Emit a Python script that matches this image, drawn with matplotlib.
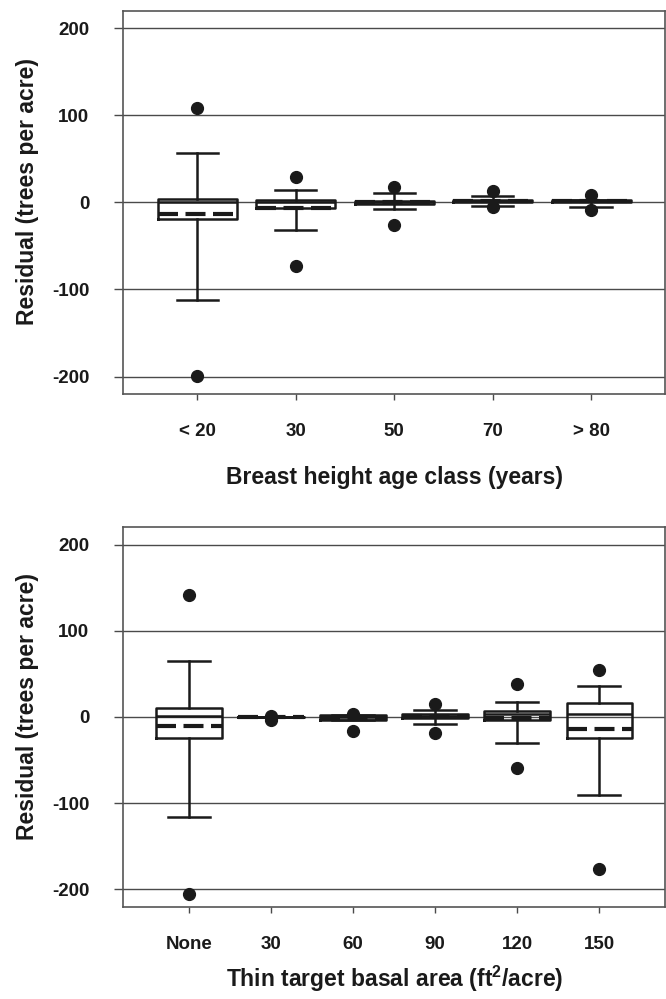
import matplotlib
matplotlib.use("Agg")
import matplotlib.pyplot as plt

plt.rcParams['font.family'] = ['Liberation Sans', 'DejaVu Sans']
plt.rcParams['font.weight'] = 'bold'
plt.rcParams['mathtext.default'] = 'regular'
plt.rcParams['axes.unicode_minus'] = False

# ---- Top panel: breast height age class ----
top_labels = ["< 20", "30", "50", "70", "> 80"]
top_whislo = [-112, -32, -8, -4, -5]
top_q1 = [-19, -6, -1.5, 0, 0]
top_med = [0, 0, 0.5, 1.5, 1]
top_q3 = [4, 3, 2, 3, 2.5]
top_whishi = [57, 14, 11, 7.5, 2.5]
top_mean = [-13, -6, 0, 1.5, 1]
top_fliers = [[108, -199], [29, -73], [18, -26], [12.5, -5.5], [9, -9]]

# ---- Bottom panel: thin target basal area ----
bot_labels = ["None", "30", "60", "90", "120", "150"]
bot_whislo = [-116, 0, -4, -8, -30, -91]
bot_q1 = [-24, 0, -4, -1.5, -3, -24]
bot_med = [1, 0, 0, 1, 3, 3]
bot_q3 = [10, 0, 2, 4, 7, 16.5]
bot_whishi = [65, 0, 2, 8, 17, 36]
bot_mean = [-11, 0, -1, 1.5, -1, -14]
bot_fliers = [[141, -205], [1, -3], [3, -16], [15, -19], [38, -59], [54, -176]]

yticks = [-200, -100, 0, 100, 200]

fig = plt.figure(figsize=(6.66, 9.99), dpi=100)
ax1 = fig.add_axes([0.1853, 0.6056, 0.8132, 0.3837])
ax2 = fig.add_axes([0.1853, 0.0924, 0.8132, 0.3798])


def build_stats(labels, wlo, q1, med, q3, whi, mean, fliers):
    stats = []
    for i in range(len(labels)):
        stats.append(dict(label=labels[i], whislo=wlo[i], q1=q1[i], med=med[i],
                          q3=q3[i], whishi=whi[i], mean=mean[i], fliers=fliers[i]))
    return stats


def draw(ax, labels, stats, xlim, capw, xlabel, label_y, xlab_y):
    n = len(labels)
    pos = list(range(1, n + 1))
    for y in yticks:
        ax.axhline(y, color='#4a4a4a', lw=1.0, zorder=0)
    ax.bxp(stats, positions=pos, widths=0.8, capwidths=capw,
           showmeans=True, meanline=True, showfliers=True,
           boxprops=dict(color='#1a1a1a', lw=1.8),
           whiskerprops=dict(color='#1a1a1a', lw=1.8),
           capprops=dict(color='#1a1a1a', lw=1.8),
           medianprops=dict(color='#1a1a1a', lw=1.8),
           meanprops=dict(color='#1a1a1a', lw=3.0, linestyle=(0, (4.8, 1.8))),
           flierprops=dict(marker='o', markerfacecolor='#1a1a1a',
                           markeredgecolor='#1a1a1a', markersize=8.5))
    ax.set_xlim(*xlim)
    ax.set_ylim(-220, 220)
    ax.set_yticks(yticks)
    ax.set_xticks(pos)
    ax.set_xticklabels(labels)
    ax.tick_params(axis='y', length=6.5, width=1, pad=18, labelsize=13.5, color='#4a4a4a')
    ax.tick_params(axis='x', length=4, width=1, pad=17, labelsize=13.5, color='#4a4a4a')
    for lab in ax.get_xticklabels() + ax.get_yticklabels():
        lab.set_fontweight('bold')
        lab.set_color('#1a1a1a')
    for sp in ax.spines.values():
        sp.set_color('#555555')
        sp.set_linewidth(1.2)
    ax.set_ylabel("Residual (trees per acre)", fontsize=16.5, fontweight='bold', color='#1a1a1a')
    ax.yaxis.set_label_coords(-0.178, label_y)
    ax.yaxis.label.set_verticalalignment('center')
    ax.set_xlabel(xlabel, fontsize=16.5, fontweight='bold', color='#1a1a1a')
    ax.xaxis.label.set_verticalalignment('center')
    ax.xaxis.set_label_coords(0.5, xlab_y)


draw(ax1, top_labels,
     build_stats(top_labels, top_whislo, top_q1, top_med, top_q3, top_whishi, top_mean, top_fliers),
     (0.25, 5.75), 0.42, "Breast height age class (years)", 0.527, -0.219)
draw(ax2, bot_labels,
     build_stats(bot_labels, bot_whislo, bot_q1, bot_med, bot_q3, bot_whishi, bot_mean, bot_fliers),
     (0.2, 6.8), 0.51, "Thin target basal area (ft$^2$/acre)", 0.527, -0.19)

fig.savefig("out.png", dpi=100)
